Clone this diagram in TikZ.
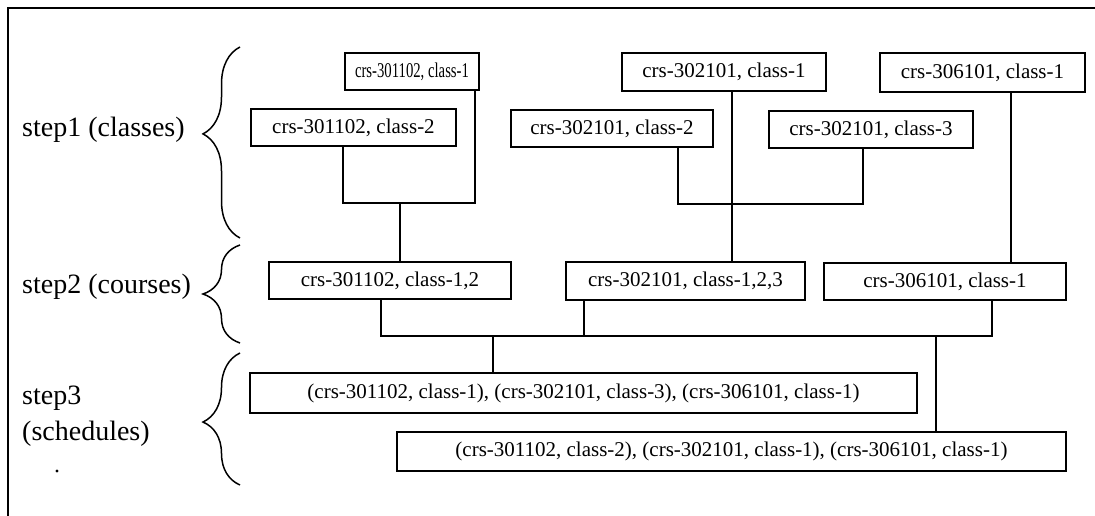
\documentclass[tikz,border=0pt]{standalone}
\usepackage{fontspec}
\setmainfont{Liberation Serif}
\usepackage{graphicx}
\usetikzlibrary{decorations.pathreplacing}
\tikzset{
  bx/.style={draw, line width=1.7pt, inner sep=0pt, font=\fontsize{21}{24}\selectfont},
  ln/.style={line width=1.5pt},
  lbl/.style={font=\fontsize{28}{32}\selectfont, anchor=west, inner sep=0pt},
  brc/.style={decorate, decoration={brace, amplitude=37pt, aspect=#1}, line width=1.5pt},
  frame/.style={line width=2.2pt},
}
\begin{document}
\begin{tikzpicture}[x=1pt,y=-1pt]
\useasboundingbox (0,0) rectangle (1095,516);
% frame
\draw[frame] (8,516) -- (8,8) -- (1095,8);
% labels
\node[lbl] (l1) at (22,130) {step1 (classes)};
\node[lbl] (l2) at (22,287) {step2 (courses)};
\node[lbl] (l3) at (22,398) {step3};
\node[lbl] (l4) at (22,434) {(schedules)};
\fill (57,471) circle[radius=1.6pt];
% braces
\draw[brc=0.545] (240,238) -- (240,47);
\draw[brc=0.5] (240,343) -- (240,245);
\draw[brc=0.477] (240,485) -- (240,353);
% step 1
\node[bx, minimum width=134, minimum height=37] (b1) at (412,71.5) {\resizebox{114pt}{\height}{crs-301102, class-1}};
\node[bx, minimum width=205, minimum height=37] (b2) at (353.5,127.5) {crs-301102, class-2};
\node[bx, minimum width=204, minimum height=38] (b3) at (724,72) {crs-302101, class-1};
\node[bx, minimum width=205, minimum height=39] (b4) at (982.5,72.5) {crs-306101, class-1};
\node[bx, minimum width=202, minimum height=37] (b5) at (612,128.5) {crs-302101, class-2};
\node[bx, minimum width=204, minimum height=37] (b6) at (871,129.5) {crs-302101, class-3};
% step 2
\node[bx, minimum width=242, minimum height=37] (s1) at (390,280.5) {crs-301102, class-1,2};
\node[bx, minimum width=239, minimum height=38] (s2) at (685.5,281) {crs-302101, class-1,2,3};
\node[bx, minimum width=242, minimum height=37] (s3) at (945,281.5) {crs-306101, class-1};
% step 3
\node[bx, minimum width=667, minimum height=40] (c1) at (583.5,393) {(crs-301102, class-1), (crs-302101, class-3), (crs-306101, class-1)};
\node[bx, minimum width=669, minimum height=39] (c2) at (731.5,451.5) {(crs-301102, class-2), (crs-302101, class-1), (crs-306101, class-1)};
% connectors step1 -> step2
\coordinate (j1) at (400,203);
\draw[ln] ([xshift=-10.5pt]b2.south) |- (j1) -| ([xshift=63pt]b1.south);
\draw[ln] (j1) -- (j1 |- s1.north);
\coordinate (j2) at (732,204);
\draw[ln] ([xshift=66pt]b5.south) |- (j2) -| ([xshift=-8pt]b6.south);
\draw[ln] ([xshift=8pt]b3.south) -- (j2) -- (j2 |- s2.north);
\draw[ln] ([xshift=28.5pt]b4.south) -- ([xshift=28.5pt]b4.south |- s3.north);
% connectors step2 -> step3
\coordinate (h) at (493,336);
\coordinate (h2) at (936,336);
\draw[ln] ([xshift=-9pt]s1.south) |- (h) -| ([xshift=47pt]s3.south);
\draw[ln] ([xshift=-101.5pt]s2.south) -- ([xshift=-101.5pt]s2.south |- h);
\draw[ln] (h) -- (h |- c1.north);
\draw[ln] (h2) -- (h2 |- c2.north);
\end{tikzpicture}
\end{document}
